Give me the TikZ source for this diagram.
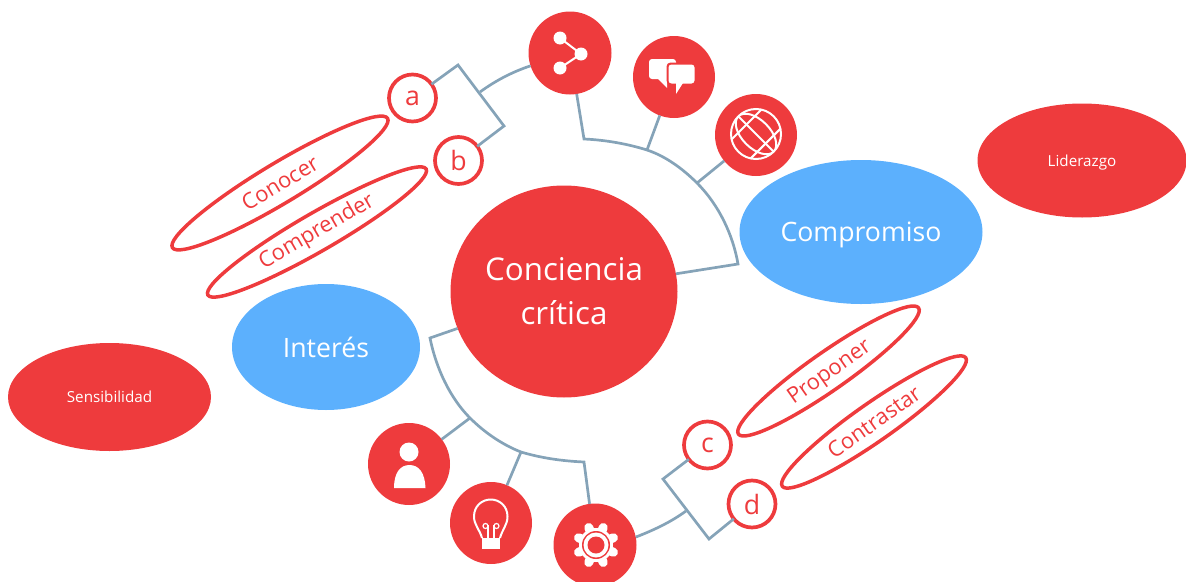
\documentclass[tikz,border=0pt]{standalone}
\usepackage{fontspec}
\setmainfont{Open Sans}
\usetikzlibrary{shapes.geometric}
\definecolor{cred}{HTML}{EE3B3D}
\definecolor{cblue}{HTML}{5CB0FD}
\definecolor{cline}{HTML}{85A3B8}
\def\pxu{0.75pt}
\tikzset{
  x=0.75pt,y=-0.75pt,
  base/.style={inner sep=0pt,outer sep=0pt,align=center},
  solidell/.style={base,ellipse,fill=cred,text=white},
  blueell/.style={base,ellipse,fill=cblue,text=white,font=\fontsize{20}{24}\selectfont},
  iconball/.style={base,circle,fill=cred,minimum size=82*\pxu},
  letterball/.style={base,circle,draw=cred,line width=3.7*\pxu,fill=white,text=cred,minimum size=47*\pxu,font=\fontsize{20}{24}\selectfont},
  thinell/.style={base,ellipse,draw=cred,line width=3.5*\pxu,text=cred,font=\fontsize{16.4}{20}\selectfont},
  conn/.style={draw=cline,line width=2.7*\pxu,line join=miter},
  ico/.style={draw=white,line width=2*\pxu,fill=none}
}
\begin{document}
\begin{tikzpicture}
\useasboundingbox (0,0) rectangle (1186,582);
\clip (0,0) rectangle (1186,582);
% nodes
\node[base,ellipse,fill=cred,text=white,minimum width=227*\pxu,minimum height=212*\pxu,font=\fontsize{23.5}{33}\selectfont] (cc) at (564,291.5) {Conciencia\\crítica};
\node[blueell,text depth=0pt,minimum width=243*\pxu,minimum height=144*\pxu] (comp) at (861,232) {Compromiso};
\node[blueell,minimum width=188*\pxu,minimum height=126*\pxu] (int) at (326,347) {Interés};
\node[solidell,minimum width=203*\pxu,minimum height=108*\pxu,font=\fontsize{11.4}{13}\selectfont] (sens) at (109.5,397) {Sensibilidad};
\node[solidell,text depth=0pt,minimum width=209*\pxu,minimum height=114*\pxu,font=\fontsize{11.4}{13}\selectfont] (lid) at (1082,160.5) {Liderazgo};
\node[iconball,minimum size=83*\pxu] (share) at (570,53) {};
\node[iconball] (chat) at (674,77) {};
\node[iconball] (globe) at (756,135) {};
\node[iconball] (person) at (409,464) {};
\node[iconball] (bulb) at (491,523) {};
\node[iconball,minimum size=83*\pxu] (gear) at (595,545) {};
\node[letterball] (a) at (412.5,98) {a};
\node[letterball] (b) at (458.5,160.5) {b};
\node[letterball] (c) at (707.5,445) {c};
\node[letterball] (d) at (752,504) {d};
\node[thinell,rotate=31,minimum width=251*\pxu,minimum height=40*\pxu] (conocer) at (280,183) {Conocer};
\node[thinell,rotate=30,minimum width=252*\pxu,minimum height=38*\pxu] (compr) at (317,232) {Comprender};
\node[thinell,rotate=35,text depth=0pt,minimum width=220*\pxu,minimum height=38*\pxu] (prop) at (828.5,371) {Proponer};
\node[thinell,rotate=35,minimum width=224*\pxu,minimum height=38*\pxu] (contr) at (874,422) {Contrastar};
% junction coordinates
\coordinate (j1) at (584,139);
\coordinate (t1) at (647,150);
\coordinate (t2) at (697,183);
\coordinate (j2) at (738,264);
\coordinate (j3) at (430,338);
\coordinate (l1) at (470,418);
\coordinate (l2) at (521,452);
\coordinate (j4) at (584,462);
\coordinate (ba) at (458,65);
\coordinate (bb) at (504,126);
\coordinate (bm) at (480,92);
\coordinate (bc) at (663,479);
\coordinate (bd) at (709,539);
\coordinate (bn) at (686,511);
% connectors
\draw[conn] (share) -- (j1) .. controls (606,140) and (628,144) .. (t1)
  .. controls (665,156) and (682,168) .. (t2)
  .. controls (719,205) and (733,235) .. (j2) -- (cc);
\draw[conn] (t1) -- (chat);
\draw[conn] (t2) -- (globe);
\draw[conn] (cc) -- (j3) .. controls (436,368) and (450,398) .. (l1)
  .. controls (485,433) and (503,445) .. (l2)
  .. controls (541,458) and (562,461) .. (j4) -- (gear);
\draw[conn] (l1) -- (person);
\draw[conn] (l2) -- (bulb);
\draw[conn] (a) -- (ba) -- (bb) -- (b);
\draw[conn] (c) -- (bc) -- (bd) -- (d);
\draw[conn] (bm) .. controls (495,81) and (512,72) .. (share.198);
\draw[conn] (bn) .. controls (671,522) and (654,530) .. (gear.11);
% share icon
\draw[white,line width=2*\pxu] (560,38) -- (581,54) -- (560,68);
\fill[white] (560,38) circle (6.5) (581,54) circle (6.5) (560,68) circle (6.5);
% chat icon
\fill[white,rounded corners=3*\pxu] (649,59) rectangle (676,79);
\fill[white] (657,78) -- (667,88) -- (667,78) -- cycle;
\fill[cred,rounded corners=4*\pxu] (666.5,62.5) rectangle (695.5,84.5);
\fill[white,rounded corners=3*\pxu] (668.5,64.5) rectangle (694.5,83.5);
\fill[white] (676,83) -- (676,94) -- (683,83) -- cycle;
% globe icon
\begin{scope}
\draw[ico] (756,134) circle (25);
\clip (756,134) circle (25);
\draw[ico] (738,116) -- (774,152);
\begin{scope}[shift={(756,134)},rotate=-45]
\draw[ico] (0,0) ellipse (25 and 14);
\draw[ico] (-13.5,-25) -- (-13.5,25);
\draw[ico] (13.5,-25) -- (13.5,25);
\end{scope}
\end{scope}
% person icon
\fill[white] (409,452) circle (9.5);
\fill[white] (394,488) .. controls (394,473) and (400,465) .. (409.5,465) .. controls (419,465) and (425,473) .. (425.5,488) -- cycle;
% bulb icon
\draw[ico] (482,538) .. controls (480,530) and (474,525) .. (474,516.5)
  .. controls (474,506) and (482,499.5) .. (490.7,499.5)
  .. controls (499.5,499.5) and (507.5,506) .. (507.5,516.5)
  .. controls (507.5,525) and (502,530) .. (500,538);
\fill[white] (481.5,538) rectangle (500,548.5);
\draw[white,line width=1.2*\pxu] (488,538) -- (488,525) (494,538) -- (494,525);
\draw[white,line width=1.2*\pxu] (485.5,526) circle (2.5) (496.5,526) circle (2.5);
% gear icon
\foreach \ang in {22.5,67.5,...,360}{
  \draw[white,line width=9*\pxu,line cap=round] (596,545) -- ++(\ang:19);
}
\fill[white] (596,545) circle (17);
\fill[cred] (596,545) circle (14);
\fill[white] (596,545) circle (12.5);
\fill[cred] (596,545) circle (8.5);
\end{tikzpicture}
\end{document}
